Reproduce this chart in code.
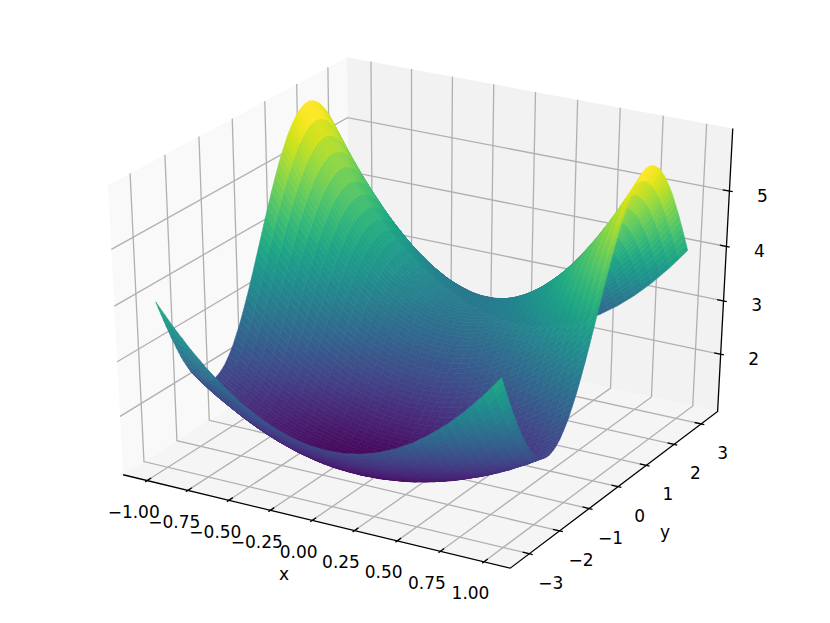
import numpy as np, pandas as pd, altair as alt
X_TICKS=[-1,-.75,-.5,-.25,0,.25,.5,.75,1]
X_LABELS=["−1.00","−0.75","−0.50","−0.25","0.00","0.25","0.50","0.75","1.00"]
Y_TICKS=[-3,-2,-1,0,1,2,3]
Y_LABELS=["−3","−2","−1","0","1","2","3"]
Z_TICKS=[2,3,4,5]
Z_LABELS=["2","3","4","5"]
# |x| of the surface columns (the surface reads the same at -x and +x)
X_ABS=[0,.05,.1,.15,.2,.25,.3,.35,.4,.45,.5,.55,.6,.65,.7,.75,.8,.85,.9,.95,1]
# surface heights: one row per pi/48 of y from -pi/2 to pi/2, one column per |x|
Z_ROWS=[
[1.00,1.00,1.01,1.02,1.04,1.06,1.09,1.12,1.16,1.20,1.25,1.30,1.36,1.42,1.49,1.56,1.64,1.72,1.81,1.90,2.00],
[1.00,1.00,1.01,1.02,1.04,1.06,1.09,1.12,1.16,1.21,1.25,1.31,1.36,1.43,1.49,1.57,1.64,1.73,1.81,1.91,2.00],
[1.01,1.01,1.02,1.03,1.05,1.07,1.10,1.13,1.17,1.21,1.26,1.31,1.37,1.43,1.50,1.58,1.65,1.74,1.83,1.92,2.02],
[1.02,1.02,1.03,1.04,1.06,1.08,1.11,1.14,1.18,1.23,1.27,1.33,1.39,1.45,1.52,1.59,1.67,1.76,1.84,1.94,2.04],
[1.03,1.04,1.04,1.06,1.08,1.10,1.13,1.16,1.20,1.24,1.29,1.35,1.41,1.47,1.54,1.62,1.70,1.78,1.87,1.97,2.07],
[1.05,1.06,1.06,1.08,1.10,1.12,1.15,1.18,1.22,1.27,1.32,1.37,1.43,1.50,1.57,1.65,1.73,1.81,1.91,2.00,2.11],
[1.08,1.08,1.09,1.10,1.12,1.14,1.17,1.21,1.25,1.29,1.35,1.40,1.46,1.53,1.60,1.68,1.76,1.85,1.95,2.05,2.15],
[1.10,1.11,1.11,1.13,1.15,1.17,1.20,1.24,1.28,1.33,1.38,1.44,1.50,1.57,1.64,1.72,1.81,1.90,2.00,2.10,2.21],
[1.13,1.14,1.15,1.16,1.18,1.20,1.24,1.27,1.32,1.36,1.42,1.48,1.54,1.61,1.69,1.77,1.86,1.95,2.05,2.16,2.27],
[1.17,1.17,1.18,1.19,1.22,1.24,1.27,1.31,1.36,1.41,1.46,1.52,1.59,1.66,1.74,1.83,1.92,2.01,2.11,2.22,2.34],
[1.21,1.21,1.22,1.23,1.25,1.28,1.32,1.35,1.40,1.45,1.51,1.57,1.64,1.72,1.80,1.89,1.98,2.08,2.18,2.30,2.41],
[1.25,1.25,1.26,1.28,1.30,1.33,1.36,1.40,1.45,1.50,1.56,1.63,1.70,1.78,1.86,1.95,2.05,2.15,2.26,2.37,2.50],
[1.29,1.30,1.31,1.32,1.34,1.37,1.41,1.45,1.50,1.55,1.62,1.68,1.76,1.84,1.93,2.02,2.12,2.23,2.34,2.46,2.59],
[1.34,1.34,1.35,1.37,1.39,1.42,1.46,1.50,1.56,1.61,1.68,1.75,1.82,1.91,2.00,2.09,2.20,2.31,2.43,2.55,2.68],
[1.39,1.39,1.41,1.42,1.45,1.48,1.52,1.56,1.61,1.67,1.74,1.81,1.89,1.98,2.07,2.17,2.28,2.40,2.52,2.65,2.78],
[1.44,1.45,1.46,1.48,1.50,1.53,1.57,1.62,1.68,1.74,1.81,1.88,1.96,2.05,2.15,2.26,2.37,2.49,2.61,2.75,2.89],
[1.50,1.50,1.52,1.53,1.56,1.59,1.64,1.68,1.74,1.80,1.88,1.95,2.04,2.13,2.24,2.34,2.46,2.58,2.72,2.85,3.00],
[1.56,1.56,1.57,1.59,1.62,1.66,1.70,1.75,1.81,1.87,1.95,2.03,2.12,2.22,2.32,2.43,2.55,2.68,2.82,2.96,3.12],
[1.62,1.62,1.63,1.65,1.68,1.72,1.76,1.82,1.88,1.94,2.02,2.11,2.20,2.30,2.41,2.53,2.65,2.79,2.93,3.08,3.23],
[1.68,1.68,1.70,1.72,1.75,1.78,1.83,1.88,1.95,2.02,2.10,2.19,2.28,2.39,2.50,2.62,2.75,2.89,3.04,3.19,3.36],
[1.74,1.75,1.76,1.78,1.81,1.85,1.90,1.95,2.02,2.09,2.18,2.27,2.37,2.48,2.59,2.72,2.86,3.00,3.15,3.31,3.48],
[1.80,1.81,1.82,1.85,1.88,1.92,1.97,2.03,2.09,2.17,2.26,2.35,2.45,2.57,2.69,2.82,2.96,3.11,3.27,3.43,3.61],
[1.87,1.87,1.89,1.91,1.94,1.99,2.04,2.10,2.17,2.25,2.34,2.44,2.54,2.66,2.79,2.92,3.07,3.22,3.38,3.56,3.74],
[1.93,1.94,1.95,1.98,2.01,2.06,2.11,2.17,2.24,2.33,2.42,2.52,2.63,2.75,2.88,3.02,3.17,3.33,3.50,3.68,3.87],
[2.00,2.01,2.02,2.05,2.08,2.13,2.18,2.25,2.32,2.41,2.50,2.61,2.72,2.85,2.98,3.13,3.28,3.45,3.62,3.81,4.00],
[2.07,2.07,2.09,2.11,2.15,2.19,2.25,2.32,2.40,2.48,2.58,2.69,2.81,2.94,3.08,3.23,3.39,3.56,3.74,3.93,4.13],
[2.13,2.14,2.15,2.18,2.22,2.26,2.32,2.39,2.47,2.56,2.66,2.77,2.90,3.03,3.17,3.33,3.49,3.67,3.86,4.05,4.26],
[2.20,2.20,2.22,2.24,2.28,2.33,2.39,2.46,2.55,2.64,2.74,2.86,2.99,3.12,3.27,3.43,3.60,3.78,3.97,4.18,4.39],
[2.26,2.26,2.28,2.31,2.35,2.40,2.46,2.54,2.62,2.72,2.82,2.94,3.07,3.21,3.37,3.53,3.70,3.89,4.09,4.30,4.52],
[2.32,2.33,2.34,2.37,2.41,2.47,2.53,2.61,2.69,2.79,2.90,3.02,3.16,3.30,3.46,3.63,3.81,4.00,4.20,4.42,4.64],
[2.38,2.39,2.41,2.44,2.48,2.53,2.60,2.67,2.76,2.87,2.98,3.10,3.24,3.39,3.55,3.72,3.91,4.10,4.31,4.53,4.77],
[2.44,2.45,2.47,2.50,2.54,2.59,2.66,2.74,2.83,2.94,3.05,3.18,3.32,3.47,3.64,3.82,4.01,4.21,4.42,4.65,4.88],
[2.50,2.51,2.53,2.56,2.60,2.66,2.73,2.81,2.90,3.01,3.13,3.26,3.40,3.56,3.73,3.91,4.10,4.31,4.53,4.76,5.00],
[2.56,2.56,2.58,2.61,2.66,2.72,2.79,2.87,2.96,3.07,3.19,3.33,3.48,3.64,3.81,3.99,4.19,4.40,4.63,4.86,5.11],
[2.61,2.62,2.63,2.67,2.71,2.77,2.84,2.93,3.03,3.14,3.26,3.40,3.55,3.71,3.89,4.08,4.28,4.49,4.72,4.96,5.22],
[2.66,2.67,2.69,2.72,2.77,2.83,2.90,2.99,3.08,3.20,3.32,3.46,3.62,3.78,3.96,4.16,4.36,4.58,4.81,5.06,5.32],
[2.71,2.71,2.73,2.77,2.82,2.88,2.95,3.04,3.14,3.26,3.38,3.53,3.68,3.85,4.03,4.23,4.44,4.66,4.90,5.15,5.41],
[2.75,2.76,2.78,2.81,2.86,2.92,3.00,3.09,3.19,3.31,3.44,3.58,3.74,3.91,4.10,4.30,4.51,4.74,4.98,5.24,5.50],
[2.79,2.80,2.82,2.86,2.91,2.97,3.04,3.14,3.24,3.36,3.49,3.64,3.80,3.97,4.16,4.36,4.58,4.81,5.06,5.31,5.59],
[2.83,2.84,2.86,2.90,2.94,3.01,3.09,3.18,3.28,3.40,3.54,3.69,3.85,4.03,4.22,4.42,4.64,4.88,5.12,5.39,5.66],
[2.87,2.87,2.89,2.93,2.98,3.05,3.12,3.22,3.32,3.45,3.58,3.73,3.90,4.08,4.27,4.48,4.70,4.94,5.19,5.45,5.73],
[2.90,2.90,2.93,2.96,3.01,3.08,3.16,3.25,3.36,3.48,3.62,3.77,3.94,4.12,4.32,4.53,4.75,4.99,5.24,5.51,5.79],
[2.92,2.93,2.95,2.99,3.04,3.11,3.19,3.28,3.39,3.52,3.65,3.81,3.98,4.16,4.36,4.57,4.80,5.04,5.29,5.56,5.85],
[2.95,2.95,2.98,3.01,3.06,3.13,3.21,3.31,3.42,3.54,3.68,3.84,4.01,4.19,4.39,4.60,4.83,5.08,5.33,5.61,5.89],
[2.97,2.97,3.00,3.03,3.08,3.15,3.23,3.33,3.44,3.57,3.71,3.86,4.03,4.22,4.42,4.63,4.86,5.11,5.37,5.64,5.93],
[2.98,2.99,3.01,3.05,3.10,3.17,3.25,3.35,3.46,3.58,3.73,3.88,4.05,4.24,4.44,4.66,4.89,5.13,5.40,5.67,5.96],
[2.99,3.00,3.02,3.06,3.11,3.18,3.26,3.36,3.47,3.60,3.74,3.90,4.07,4.26,4.46,4.67,4.91,5.15,5.41,5.69,5.98],
[3.00,3.01,3.03,3.07,3.12,3.19,3.27,3.37,3.48,3.61,3.75,3.90,4.08,4.26,4.47,4.68,4.92,5.16,5.43,5.70,6.00],
[3.00,3.01,3.03,3.07,3.12,3.19,3.27,3.37,3.48,3.61,3.75,3.91,4.08,4.27,4.47,4.69,4.92,5.17,5.43,5.71,6.00],
]
XM,YM,ZL,ZH=1.1493,3.6212,0.9093,6.1064
XL,XH,YL,YH=-XM,XM,-YM,YM
DIST,ELEV,AZIM,Z_ASPECT=10.18,29.14,-60.08,3.884
SX=(4256.84,6.267,425.516);SY=(1.526,-3219.11,303.008)
def px(x,y,z):
    x,y,z=np.asarray(x,float),np.asarray(y,float),np.asarray(z,float)
    asp=np.array([4,4,Z_ASPECT]);b=asp*1.8294640721620434/np.linalg.norm(asp)
    Q=np.stack([(x-XL)/(XH-XL)*b[0],(y-YL)/(YH-YL)*b[1],(z-ZL)/(ZH-ZL)*b[2]],-1)-b/2
    el,az=np.radians(ELEV),np.radians(AZIM)
    n=np.array([np.cos(el)*np.cos(az),np.cos(el)*np.sin(az),np.sin(el)])
    u=np.cross([0,0,1.],n);u/=np.linalg.norm(u);v=np.cross(n,u)
    w=DIST-Q@n;U=(Q@u)/w;V=(Q@v)/w
    return SX[0]*U+SX[1]*V+SX[2]-8,SY[0]*U+SY[1]*V+SY[2]-8,w
def line(pts):
    a=np.array(pts,float);X,Y,_=px(a[:,0],a[:,1],a[:,2])
    return {"type":"Feature","properties":{},"geometry":{"type":"LineString","coordinates":[[float(p),float(q)] for p,q in zip(X,Y)]}}
def poly(pts,**prop):
    a=np.array(pts,float);X,Y,_=px(a[:,0],a[:,1],a[:,2])
    c=[[round(float(p),2),round(float(q),2)] for p,q in zip(X,Y)];c.append(c[0])
    return {"type":"Feature","properties":prop,"geometry":{"type":"Polygon","coordinates":[c]}}
PR=dict(type='identity',scale=1,translate=[0,0])
panes=[poly([(XL,YL,ZL),(XL,YH,ZL),(XL,YH,ZH),(XL,YL,ZH)],f="#f9f9f9"),
       poly([(XL,YH,ZL),(XH,YH,ZL),(XH,YH,ZH),(XL,YH,ZH)],f="#f2f2f2"),
       poly([(XL,YL,ZL),(XH,YL,ZL),(XH,YH,ZL),(XL,YH,ZL)],f="#f5f5f5")]
grid=[];ticks=[]
dx=(XH-XL)/12;dy=(YH-YL)/12
for t in X_TICKS:
    grid.append(line([(t,YL,ZL),(t,YH,ZL),(t,YH,ZH)]))
    ticks.append(line([(t,YL-.1*dy,ZL),(t,YL+.2*dy,ZL)]))
for t in Y_TICKS:
    grid.append(line([(XH,t,ZL),(XL,t,ZL),(XL,t,ZH)]))
    ticks.append(line([(XH+.1*dx,t,ZL),(XH-.2*dx,t,ZL)]))
for t in Z_TICKS:
    grid.append(line([(XL,YL,t),(XL,YH,t),(XH,YH,t)]))
    ticks.append(line([(XH+.1*dx,YH,t),(XH-.2*dx,YH,t)]))
axes=[line([(XL,YL,ZL),(XH,YL,ZL),(XH,YH,ZL),(XH,YH,ZH)])]
# full mesh: the rows repeat about y=+-pi/2, the columns about x=0
order=list(range(24,-1,-1))+list(range(1,49))+list(range(47,23,-1))
ys=np.array([-np.pi+k*np.pi/48 for k in range(len(order))])
xs=np.array([-v for v in X_ABS[:0:-1]]+X_ABS)
half=np.array(Z_ROWS)
ZZ=np.hstack([half[:,:0:-1],half])[order,:]
quads=[]
for j in range(len(ys)-1):
    for i in range(len(xs)-1):
        pts=[(xs[i],ys[j],ZZ[j,i]),(xs[i+1],ys[j],ZZ[j,i+1]),(xs[i+1],ys[j+1],ZZ[j+1,i+1]),(xs[i],ys[j+1],ZZ[j+1,i])]
        a=np.array(pts);w=px(a[:,0],a[:,1],a[:,2])[2].mean()
        quads.append((w,poly(pts,z=round(float(a[:,2].mean()),3))))
quads.sort(key=lambda q:-q[0])
surface=[q[1] for q in quads]
pane_ch=alt.Chart(alt.Data(values=panes)).mark_geoshape(strokeWidth=0).encode(fill=alt.Fill('properties.f:N',scale=None)).project(**PR)
grid_ch=alt.Chart(alt.Data(values=grid)).mark_geoshape(filled=False,stroke="#b0b0b0",strokeWidth=1.3).project(**PR)
tick_ch=alt.Chart(alt.Data(values=ticks+axes)).mark_geoshape(filled=False,stroke="#000000",strokeWidth=1.3).project(**PR)
sc=alt.Scale(scheme='viridis',domain=[1,5.85])
surf_ch=alt.Chart(alt.Data(values=surface)).mark_geoshape(strokeWidth=0.6).encode(
    fill=alt.Fill('properties.z:Q',scale=sc,legend=None),stroke=alt.Stroke('properties.z:Q',scale=sc,legend=None)).project(**PR)
rows=[]
xt=px(np.array(X_TICKS),np.full(9,YL),np.full(9,ZL))
for a,b,s in zip(xt[0],xt[1],X_LABELS): rows.append((a-13.5,b+32.5,s))
yt=px(np.full(7,XH),np.array(Y_TICKS),np.full(7,ZL))
for a,b,s in zip(yt[0],yt[1],Y_LABELS): rows.append((a+21.5,b+30,s))
zt=px(np.full(4,XH),np.full(4,YH),np.array(Z_TICKS))
for a,b,s in zip(zt[0],zt[1],Z_LABELS): rows.append((a+33,b+5.5,s))
rows.append((276,567,"x"));rows.append((657,525,"y"))
lab=pd.DataFrame(rows,columns=["lon","lat","s"])
txt=alt.Chart(lab).mark_text(font="DejaVu Sans",fontSize=17,color="#000000").encode(longitude='lon:Q',latitude='lat:Q',text='s:N').project(**PR)
chart=alt.layer(pane_ch,grid_ch,tick_ch,surf_ch,txt).properties(width=814,height=607,padding=0,autosize=alt.AutoSizeParams(type="none")).configure_view(stroke=None).resolve_scale(fill='independent')
chart.save("out.html",embed_options={"renderer":"svg","actions":False})
